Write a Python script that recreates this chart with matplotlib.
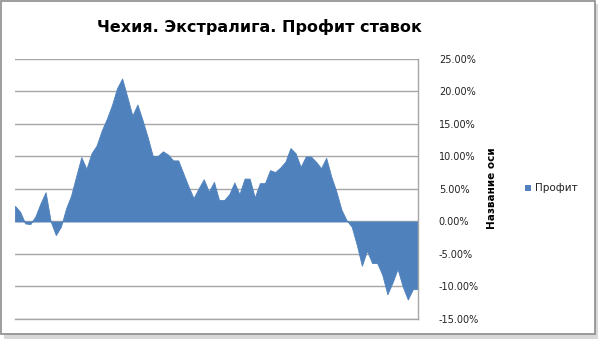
import numpy as np
import matplotlib.pyplot as plt
from matplotlib.patches import Rectangle
from matplotlib.ticker import FuncFormatter

# данные: профит ставок (%) по порядку ставок
profit = [2.4, 1.5, -0.3, -0.4, 0.8, 2.8, 4.5, 0.0, -2.1, -0.8,
          2.0, 4.0, 7.0, 9.9, 8.1, 10.5, 11.7, 14.0, 15.8, 17.9,
          20.5, 22.0, 19.2, 16.3, 18.0, 15.6, 13.0, 10.1, 10.1, 10.8,
          10.3, 9.4, 9.4, 7.4, 5.4, 3.6, 5.1, 6.5, 4.6, 6.1,
          3.3, 3.3, 4.2, 6.0, 4.2, 6.6, 6.6, 3.7, 5.9, 5.9,
          7.9, 7.6, 8.3, 9.2, 11.3, 10.5, 8.4, 10.0, 10.0, 9.2,
          8.2, 9.8, 6.9, 4.6, 1.8, 0.2, -0.8, -3.6, -6.8, -4.5,
          -6.4, -6.4, -8.2, -11.2, -9.4, -7.3, -10.0, -12.0, -10.4, -10.4]
y_ticks = [-15, -10, -5, 0, 5, 10, 15, 20, 25]
title = "Чехия. Экстралига. Профит ставок"
series_name = "Профит"
axis_title = "Название оси"

W, H = 601, 339
fig = plt.figure(figsize=(W / 100, H / 100), dpi=100)
fig.patch.set_facecolor("white")

# рамка картинки с тенью
fig.add_artist(Rectangle((4 / W, 0), 594 / W, 335 / H, transform=fig.transFigure,
                         facecolor="#d8d8d8", edgecolor="none", zorder=-2))
fig.add_artist(Rectangle((1 / W, 5 / H), 594 / W, 333 / H, transform=fig.transFigure,
                         facecolor="white", edgecolor="#8c8c8c", linewidth=1.2, zorder=-1))

left, right, top, bottom = 15, 418, 59, 319
ax = fig.add_axes([left / W, 1 - bottom / H, (right - left) / W, (bottom - top) / H])

x = np.arange(len(profit))
y = np.array(profit)
ax.fill_between(x, y, 0, color="#4F81BD", linewidth=0.6, edgecolor="#4F81BD", zorder=2)

ax.set_xlim(0, len(profit) - 1)
ax.set_ylim(min(y_ticks), max(y_ticks))
ax.set_yticks(y_ticks)
ax.yaxis.set_major_formatter(FuncFormatter(lambda v, p: f"{v:.2f}%"))
ax.yaxis.tick_right()
ax.tick_params(axis="y", length=0, pad=15, labelsize=7, labelcolor="#222222")
for lbl in ax.get_yticklabels():
    lbl.set_horizontalalignment("left")
ax.set_xticks([])
ax.grid(axis="y", color="#a6a6a6", linewidth=1.0, zorder=0)
ax.set_axisbelow(True)
for s in ["left", "top"]:
    ax.spines[s].set_visible(False)
for s in ["right", "bottom"]:
    ax.spines[s].set_color("#a6a6a6")
    ax.spines[s].set_linewidth(1.0)

fig.text(492 / W, 1 - 188 / H, axis_title, rotation=90, ha="center", va="center",
         fontsize=7.5, fontweight="bold", color="black")

# легенда
fig.add_artist(Rectangle((525 / W, 1 - 191 / H), 6 / W, 6 / H, transform=fig.transFigure,
                         facecolor="#4F81BD", edgecolor="none"))
fig.text(535 / W, 1 - 188 / H, series_name, ha="left", va="center", fontsize=7.5, color="#222222")

fig.text(259 / W, 1 - 27 / H, title, ha="center", va="center",
         fontsize=11.5, fontweight="bold", color="black")

fig.savefig("out.png", dpi=100)
